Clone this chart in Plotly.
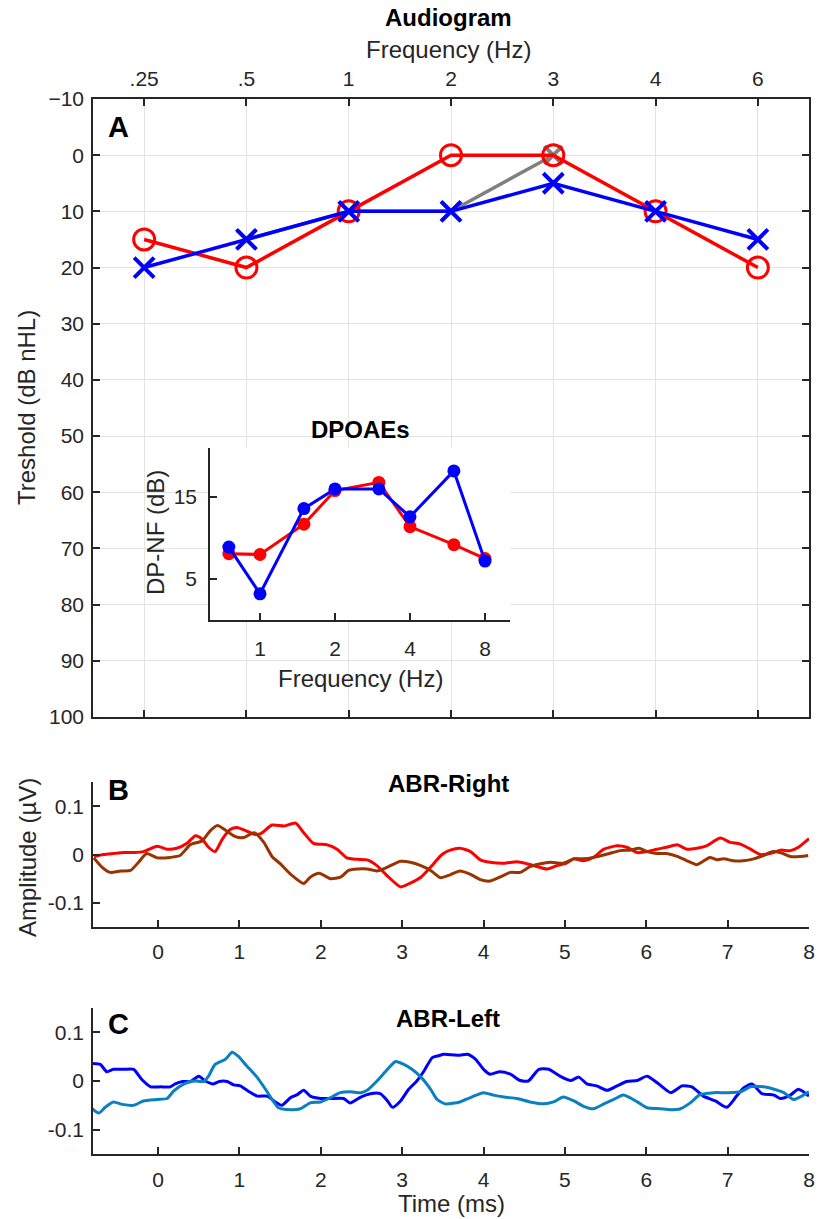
import plotly.graph_objects as go

# audiogram (threshold in dB nHL)
freq_labels = [".25", ".5", "1", "2", "3", "4", "6"]
right_thr = [15, 20, 10, 0, 0, 10, 20]
left_thr = [20, 15, 10, 10, 5, 10, 15]
gray_freqs = [".5", "1", "2", "3"]
gray_thr = [15, 10, 10, 0]

# DPOAEs
dp_freq = [0.75, 1, 1.5, 2, 3, 4, 6, 8]
dp_right = [8.1, 8.0, 11.7, 15.8, 16.8, 11.4, 9.2, 7.5]
dp_left = [8.9, 3.2, 13.6, 16.0, 16.0, 12.6, 18.2, 7.2]

# ABR right ear, two traces
abr_r1_t = [-0.79, -0.67, -0.55, -0.42, -0.30, -0.18, -0.01, 0.11, 0.23, 0.36,
            0.46, 0.54, 0.62, 0.70, 0.79, 0.89, 0.97, 1.07, 1.18, 1.26,
            1.40, 1.55, 1.69, 1.79, 1.91, 2.08, 2.20, 2.32, 2.45, 2.57,
            2.69, 2.81, 2.98, 3.10, 3.23, 3.35, 3.49, 3.59, 3.71, 3.84,
            3.96, 4.08, 4.25, 4.41, 4.53, 4.66, 4.78, 4.90, 5.02, 5.11,
            5.23, 5.35, 5.48, 5.64, 5.76, 5.89, 6.01, 6.13, 6.25, 6.38,
            6.50, 6.62, 6.74, 6.91, 7.03, 7.15, 7.28, 7.40, 7.52, 7.65,
            7.77, 7.87, 8.00]
abr_r1_v = [-0.004, 0, 0.002, 0.004, 0.004, 0.006, 0.017, 0.011, 0.013, 0.024,
            0.039, 0.032, 0.015, 0.006, 0.032, 0.052, 0.056, 0.050, 0.042, 0.043,
            0.061, 0.059, 0.065, 0.045, 0.023, 0.020, 0.011, -0.007, -0.010, -0.011,
            -0.023, -0.043, -0.067, -0.059, -0.047, -0.026, 0, 0.009, 0.013, 0.006,
            -0.011, -0.016, -0.018, -0.015, -0.019, -0.025, -0.030, -0.023, -0.018, -0.009,
            -0.013, -0.006, 0.011, 0.018, 0.015, 0.004, 0.006, 0.011, 0.015, 0.020,
            0.011, 0.013, 0.018, 0.034, 0.025, 0.022, 0.011, 0, 0.002, 0.009,
            0.008, 0.015, 0.033]

abr_r2_t = [-0.79, -0.69, -0.59, -0.46, -0.34, -0.24, -0.14, -0.01, 0.15, 0.27,
            0.40, 0.54, 0.64, 0.73, 0.83, 0.95, 1.05, 1.18, 1.30, 1.40,
            1.50, 1.63, 1.79, 1.87, 1.98, 2.12, 2.24, 2.34, 2.45, 2.57,
            2.69, 2.82, 2.98, 3.10, 3.23, 3.35, 3.47, 3.59, 3.71, 3.84,
            3.96, 4.08, 4.20, 4.33, 4.45, 4.57, 4.70, 4.82, 4.98, 5.11,
            5.23, 5.35, 5.52, 5.68, 5.80, 5.91, 6.01, 6.13, 6.25, 6.38,
            6.50, 6.62, 6.70, 6.78, 6.87, 6.95, 7.07, 7.19, 7.32, 7.44,
            7.56, 7.68, 7.77, 7.89, 7.99]
abr_r2_v = [-0.007, -0.026, -0.037, -0.034, -0.033, -0.016, 0.002, -0.007, -0.006, -0.002,
            0.021, 0.028, 0.049, 0.060, 0.050, 0.037, 0.035, 0.045, 0.025, -0.004,
            -0.019, -0.041, -0.060, -0.047, -0.039, -0.050, -0.047, -0.033, -0.030, -0.030,
            -0.034, -0.026, -0.014, -0.016, -0.023, -0.033, -0.048, -0.042, -0.034, -0.041,
            -0.052, -0.055, -0.047, -0.037, -0.037, -0.025, -0.019, -0.016, -0.018, -0.009,
            -0.009, -0.006, 0.001, 0.008, 0.009, 0.013, 0.006, 0.002, 0.002, -0.004,
            -0.013, -0.021, -0.014, -0.006, -0.011, -0.009, -0.013, -0.013, -0.009, -0.002,
            0.006, 0.002, -0.004, -0.004, -0.002]

# ABR left ear, two traces
abr_l1_t = [-0.81, -0.71, -0.63, -0.55, -0.42, -0.30, -0.20, -0.09, 0.03, 0.15,
            0.21, 0.30, 0.40, 0.50, 0.58, 0.68, 0.75, 0.85, 0.93, 1.01,
            1.11, 1.22, 1.34, 1.44, 1.52, 1.63, 1.71, 1.79, 1.87, 2.00,
            2.12, 2.28, 2.36, 2.49, 2.61, 2.73, 2.82, 2.88, 2.98, 3.08,
            3.18, 3.27, 3.37, 3.45, 3.51, 3.59, 3.71, 3.80, 3.90, 4.00,
            4.08, 4.20, 4.33, 4.45, 4.55, 4.68, 4.80, 4.94, 5.07, 5.17,
            5.27, 5.39, 5.52, 5.64, 5.76, 5.89, 6.01, 6.13, 6.30, 6.44,
            6.56, 6.70, 6.85, 6.99, 7.11, 7.20, 7.30, 7.42, 7.57, 7.65,
            7.77, 7.87, 8.00]
abr_l1_v = [0.036, 0.034, 0.019, 0.024, 0.024, 0.024, 0.003, -0.012, -0.012, -0.012,
            -0.006, -0.001, -0.001, 0.010, 0, -0.006, -0.001, -0.001, -0.008, -0.010,
            -0.021, -0.031, -0.031, -0.043, -0.050, -0.034, -0.028, -0.019, -0.031, -0.036,
            -0.036, -0.036, -0.045, -0.033, -0.026, -0.026, -0.041, -0.054, -0.041, -0.017,
            0, 0.021, 0.048, 0.052, 0.055, 0.054, 0.053, 0.055, 0.045, 0.024,
            0.014, 0.019, 0.014, 0.001, 0, 0.024, 0.024, 0.010, 0.001, 0.008,
            -0.006, -0.010, -0.019, -0.010, -0.001, 0.001, 0.010, -0.003, -0.024, -0.010,
            -0.012, -0.031, -0.041, -0.054, -0.031, -0.014, -0.006, -0.026, -0.029, -0.036,
            -0.029, -0.017, -0.031]

abr_l2_t = [-0.81, -0.73, -0.65, -0.55, -0.44, -0.30, -0.18, -0.01, 0.11, 0.19,
            0.32, 0.44, 0.56, 0.62, 0.70, 0.83, 0.91, 0.99, 1.09, 1.22,
            1.32, 1.40, 1.48, 1.63, 1.75, 1.87, 2.00, 2.12, 2.24, 2.36,
            2.49, 2.57, 2.69, 2.82, 2.92, 3.02, 3.12, 3.23, 3.35, 3.43,
            3.53, 3.71, 3.84, 4.00, 4.12, 4.25, 4.41, 4.57, 4.74, 4.86,
            4.98, 5.11, 5.23, 5.35, 5.48, 5.60, 5.72, 5.89, 6.01, 6.17,
            6.30, 6.42, 6.54, 6.66, 6.83, 6.99, 7.16, 7.28, 7.44, 7.57,
            7.69, 7.81, 7.91, 8.00]
abr_l2_v = [-0.057, -0.066, -0.054, -0.043, -0.048, -0.050, -0.041, -0.038, -0.036, -0.021,
            -0.006, 0, -0.001, 0.010, 0.034, 0.045, 0.059, 0.050, 0.031, 0.007,
            -0.017, -0.038, -0.055, -0.059, -0.057, -0.045, -0.043, -0.034, -0.024, -0.022,
            -0.024, -0.019, 0, 0.024, 0.040, 0.034, 0.024, 0.008, -0.017, -0.038,
            -0.047, -0.043, -0.034, -0.024, -0.029, -0.033, -0.036, -0.043, -0.047, -0.043,
            -0.033, -0.041, -0.052, -0.057, -0.047, -0.038, -0.029, -0.043, -0.055, -0.057,
            -0.059, -0.057, -0.045, -0.028, -0.024, -0.024, -0.022, -0.012, -0.012, -0.017,
            -0.024, -0.038, -0.031, -0.022]

assert len(abr_r1_t) == len(abr_r1_v)
assert len(abr_r2_t) == len(abr_r2_v)
assert len(abr_l1_t) == len(abr_l1_v)
assert len(abr_l2_t) == len(abr_l2_v)

W, H = 824, 1219
AX = "#262626"
GRID = "#e3e3e3"
FONT = "Liberation Sans, Arial, sans-serif"


def px(x):
    return x / W


def py(y):
    return 1 - y / H


fig = go.Figure()

# panel A
fig.add_trace(go.Scatter(x=gray_freqs, y=gray_thr, mode="lines+markers",
                         line=dict(color="#808080", width=3.5),
                         marker=dict(symbol="x-thin-open", size=18, line=dict(color="#808080", width=4)),
                         xaxis="x", yaxis="y"))
fig.add_trace(go.Scatter(x=freq_labels, y=right_thr, mode="lines+markers",
                         line=dict(color="#ff0000", width=3.5),
                         marker=dict(symbol="circle-open", size=21, color="#ff0000", line=dict(color="#ff0000", width=3)),
                         xaxis="x", yaxis="y"))
fig.add_trace(go.Scatter(x=freq_labels, y=left_thr, mode="lines+markers",
                         line=dict(color="#0000ff", width=3.5),
                         marker=dict(symbol="x-thin-open", size=20, color="#0000ff", line=dict(color="#0000ff", width=4)),
                         xaxis="x", yaxis="y"))

# inset DPOAEs
fig.add_trace(go.Scatter(x=dp_freq, y=dp_right, mode="lines+markers",
                         line=dict(color="#ff0000", width=3), marker=dict(size=13, color="#ff0000"),
                         xaxis="x2", yaxis="y2"))
fig.add_trace(go.Scatter(x=dp_freq, y=dp_left, mode="lines+markers",
                         line=dict(color="#0000ff", width=3), marker=dict(size=13, color="#0000ff"),
                         xaxis="x2", yaxis="y2"))

# panel B / C
abr = dict(mode="lines")
fig.add_trace(go.Scatter(x=abr_r1_t, y=abr_r1_v, line=dict(color="#ff0000", width=3, shape="spline", smoothing=0.6),
                         xaxis="x3", yaxis="y3", **abr))
fig.add_trace(go.Scatter(x=abr_r2_t, y=abr_r2_v, line=dict(color="#993300", width=3, shape="spline", smoothing=0.6),
                         xaxis="x3", yaxis="y3", **abr))
fig.add_trace(go.Scatter(x=abr_l1_t, y=abr_l1_v, line=dict(color="#0000ff", width=3, shape="spline", smoothing=0.6),
                         xaxis="x4", yaxis="y4", **abr))
fig.add_trace(go.Scatter(x=abr_l2_t, y=abr_l2_v, line=dict(color="#0b80c0", width=3, shape="spline", smoothing=0.6),
                         xaxis="x4", yaxis="y4", **abr))

common = dict(showline=True, linecolor=AX, linewidth=1.5, ticks="inside", ticklen=7,
              tickcolor=AX, tickwidth=1.5, tickfont=dict(size=21, color=AX),
              zeroline=False, automargin=False)

xd = [px(93), px(809)]
fig.update_layout(
    width=W, height=H,
    margin=dict(l=0, r=0, t=0, b=0),
    paper_bgcolor="white", plot_bgcolor="white",
    showlegend=False,
    font=dict(family=FONT, color=AX),
    xaxis=dict(domain=xd, anchor="y", side="top", type="category",
               categoryorder="array", categoryarray=freq_labels, range=[-0.5, 6.5],
               mirror="ticks", showgrid=True, gridcolor=GRID, gridwidth=1.2,
               ticklabelstandoff=3, **common),
    yaxis=dict(domain=[py(717), py(99)], anchor="x", range=[100, -10],
               tickvals=list(range(-10, 101, 10)), mirror="ticks",
               showgrid=True, gridcolor=GRID, gridwidth=1.2, ticklabelstandoff=3, **common),
    xaxis2=dict(domain=[px(210), px(510)], anchor="y2", type="log",
                range=[-0.2007, 1.0035], tickvals=[1, 2, 4, 8], ticktext=["1", "2", "4", "8"],
                showgrid=False, ticklabelstandoff=9, **common),
    yaxis2=dict(domain=[py(620), py(448)], anchor="x2", range=[0, 21],
                tickvals=[5, 15], showgrid=False, ticklabelstandoff=7, **common),
    xaxis3=dict(domain=xd, anchor="y3", range=[-0.8, 8], tickvals=list(range(0, 9)),
                showgrid=False, ticklabelstandoff=5, **common),
    yaxis3=dict(domain=[py(927), py(782)], anchor="x3", range=[-0.15, 0.15],
                tickvals=[-0.1, 0, 0.1], ticktext=["-0.1", "0", "0.1"], showgrid=False,
                ticklabelstandoff=3, **common),
    xaxis4=dict(domain=xd, anchor="y4", range=[-0.8, 8], tickvals=list(range(0, 9)),
                showgrid=False, ticklabelstandoff=6, **common),
    yaxis4=dict(domain=[py(1154), py(1008)], anchor="x4", range=[-0.15, 0.15],
                tickvals=[-0.1, 0, 0.1], ticktext=["-0.1", "0", "0.1"], showgrid=False,
                ticklabelstandoff=3, **common),
)

labels = [
    ("<b>Audiogram</b>", 448, 18, 24, 0),
    ("Frequency (Hz)", 448, 50, 24, 0),
    ("Treshold (dB nHL)", 27, 408, 24, -90),
    ("<b>A</b>", 118, 127, 29, 0),
    ("<b>DPOAEs</b>", 360, 430, 24, 0),
    ("DP-NF (dB)", 155, 533, 24, -90),
    ("Frequency (Hz)", 360, 678, 24, 0),
    ("<b>ABR-Right</b>", 448, 783, 24, 0),
    ("<b>B</b>", 118, 790, 29, 0),
    ("Amplitude (\u00b5V)", 27, 858, 24, -90),
    ("<b>ABR-Left</b>", 448, 1018, 24, 0),
    ("<b>C</b>", 118, 1024, 29, 0),
    ("Time (ms)", 451, 1203, 24, 0),
]
for text, x, y, size, ang in labels:
    col = "black" if text.startswith("<b>") else AX
    fig.add_annotation(text=text, x=px(x), y=py(y), xref="paper", yref="paper",
                       xanchor="center", yanchor="middle", showarrow=False,
                       textangle=ang, font=dict(size=size, color=col, family=FONT))

# drop the default 8px body margin so the figure fills the 824x1219 window
fig.write_html("out.html", config={"displayModeBar": False},
               post_script="document.body.style.margin = '0px';")
